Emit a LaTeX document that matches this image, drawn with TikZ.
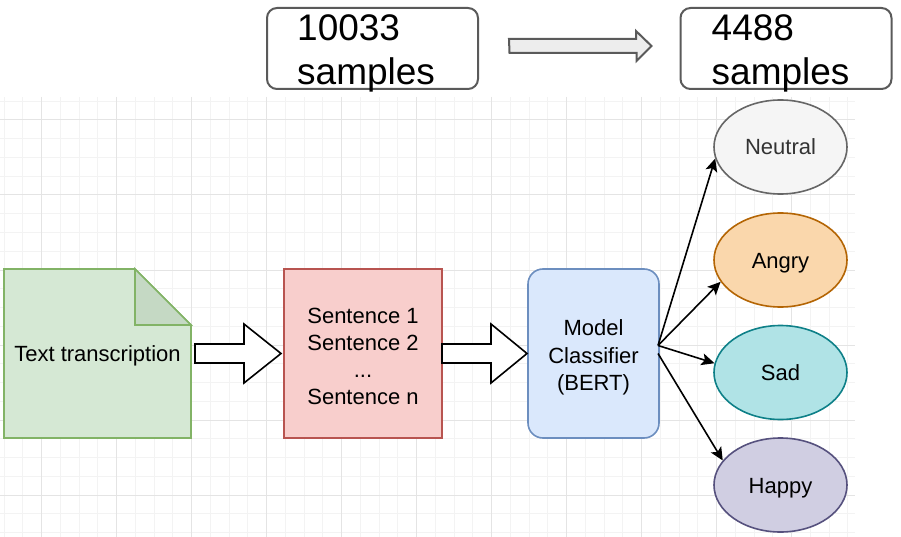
\documentclass[tikz,border=0pt]{standalone}
\usepackage{fontspec}
\setmainfont{Liberation Sans}
\usetikzlibrary{positioning}
\usetikzlibrary{shapes.geometric}
\usetikzlibrary{arrows.meta}
\usetikzlibrary{backgrounds}

\definecolor{gridlo}{HTML}{F3F3F3}
\definecolor{gridhi}{HTML}{E4E4E4}
\definecolor{docfill}{HTML}{D5E8D4}
\definecolor{docfold}{HTML}{C5D9C4}
\definecolor{docline}{HTML}{82B366}
\definecolor{sentfill}{HTML}{F8CECC}
\definecolor{sentline}{HTML}{B85450}
\definecolor{bertfill}{HTML}{DAE8FC}
\definecolor{bertline}{HTML}{6C8EBF}
\definecolor{neufill}{HTML}{F5F5F5}
\definecolor{neuline}{HTML}{666666}
\definecolor{neutext}{HTML}{333333}
\definecolor{angfill}{HTML}{FAD7AC}
\definecolor{angline}{HTML}{B46504}
\definecolor{sadfill}{HTML}{B0E3E6}
\definecolor{sadline}{HTML}{0E8088}
\definecolor{hapfill}{HTML}{D0CEE2}
\definecolor{hapline}{HTML}{56517E}
\definecolor{countline}{HTML}{5A5A5A}

\begin{document}
\begin{tikzpicture}
  [
    x=1pt, y=-1pt,
    body/.style={font=\fontsize{22}{26.8}\selectfont, align=center},
    countbox/.style={draw=countline, line width=2pt, rounded corners=10pt,
      minimum width=211pt, minimum height=81pt, outer sep=0pt},
    counttext/.style={font=\fontsize{37}{44}\selectfont, align=left,
      inner sep=0pt, anchor=west},
    stepnode/.style={body, line width=1.6pt, outer sep=0pt,
      minimum width=#1, minimum height=169pt},
    emotion/.style={body, ellipse, line width=1.6pt, minimum width=133pt,
      minimum height=94pt, inner sep=0pt, text height=16pt, text depth=0pt},
    blockarrow/.style={draw=black, fill=white, line width=1.6pt},
    ld/.style={draw=black, line width=1.6pt,
      -{Stealth[length=13pt, width=12pt, inset=3pt]}}
  ]
  \useasboundingbox (0,0) rectangle (901,537);

  \node (src) at (372.5,48.5) [countbox] {};
  \node (dst) at (786,48.5)   [countbox] {};
  \node (srctext) at ([shift={(30,5.1)}]src.west) [counttext] {10033\\samples};
  \node (dsttext) at ([shift={(31,5.1)}]dst.west) [counttext] {4488\\samples};

  \node (doc)  at (97.5,353.5) [stepnode=187pt, text height=16pt, text depth=0pt]
    {Text transcription};
  \node (sent) at (363,353.5)  [stepnode=158pt, draw=sentline, fill=sentfill]
    {\rule{0pt}{21pt}Sentence 1\\Sentence 2\\...\\Sentence n};
  \node (bert) at (593.5,353.5) [stepnode=131pt, draw=bertline, fill=bertfill,
    rounded corners=15pt, font=\fontsize{22}{27.5}\selectfont]
    {\rule{0pt}{24pt}Model\\Classifier\\(BERT)};

  \node (neu) at (780.5,147)   [emotion, draw=neuline, fill=neufill, text=neutext] {Neutral};
  \node (ang) at (780.5,260)   [emotion, draw=angline, fill=angfill] {Angry};
  \node (sad) at (780.5,372.5) [emotion, draw=sadline, fill=sadfill] {Sad};
  \node (hap) at (780.5,485)   [emotion, draw=hapline, fill=hapfill] {Happy};

  \begin{scope}[on background layer]
    \begin{scope}
      \clip (0,97) rectangle (855,537);
      \foreach \x in {4,22.75,...,855}
        \draw [gridlo, line width=1pt] (\x,97) -- (\x,537);
      \foreach \y in {101.25,120,...,537}
        \draw [gridlo, line width=1pt] (0,\y) -- (855,\y);
      \foreach \x in {41.5,116.5,...,855}
        \draw [gridhi, line width=1pt] (\x,97) -- (\x,537);
      \foreach \y in {120,195,...,537}
        \draw [gridhi, line width=1pt] (0,\y) -- (855,\y);
    \end{scope}
    \draw [docline, fill=docfill, line width=1.6pt, line join=miter]
      (doc.south west) -- (doc.north west) -- ([shift={(-56,0)}]doc.north east)
      -- ([shift={(0,56)}]doc.north east) -- (doc.south east) -- cycle;
    \draw [docline, fill=docfold, line width=1.6pt]
      ([shift={(-56,0)}]doc.north east) -- ([shift={(-56,56)}]doc.north east)
      -- ([shift={(0,56)}]doc.north east) -- cycle;
  \end{scope}

  \draw [draw=countline, fill=black!7, line width=2pt]
    ([shift={(31,-9.5)}]src.east) -- ++(127,0) -- ++(0,-8)
    -- ([shift={(-29,-2.5)}]dst.west) -- ++(-15,15) -- ++(0,-8) -- ++(-127,0) -- cycle;

  \draw [blockarrow] ([shift={(4,-9.5)}]doc.east) -- ++(49,0) -- ++(0,-20)
    -- ([xshift=-3pt]sent.west) -- ++(-37,29.5) -- ++(0,-20) -- ++(-49,0) -- cycle;
  \draw [blockarrow] ([shift={(0,-9.5)}]sent.east) -- ++(49,0) -- ++(0,-20)
    -- ([xshift=-1pt]bert.west) -- ++(-36,29.5) -- ++(0,-20) -- ++(-49,0) -- cycle;

  \coordinate (fan) at ([shift={(-1,-8)}]bert.east);
  \draw [ld] (fan) -- (neu.190);
  \draw [ld] (fan) -- (ang.200);
  \draw [ld] (fan) -- (sad.172);
  \draw [ld] ([xshift=-1pt]bert.east) -- (hap.157);
\end{tikzpicture}
\end{document}
